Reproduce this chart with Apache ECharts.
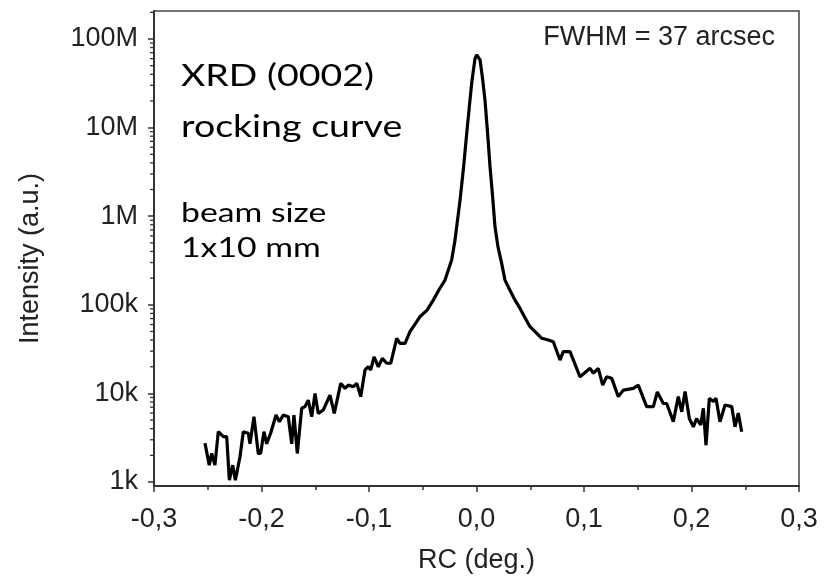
<!DOCTYPE html>
<html>
<head>
<meta charset="utf-8">
<script src="https://cdn.jsdelivr.net/npm/echarts@6/dist/echarts.min.js"></script>
<style>
html,body{margin:0;padding:0;background:#fff;}
#chart{width:834px;height:579px;}
</style>
</head>
<body>
<div id="chart"></div>
<script>
// RC angle (deg.)
const rcDeg = [
-0.2526,-0.2486,-0.2464,-0.2433,-0.2402,-0.2355,-0.2324,-0.2299,-0.2268,-0.2243,
-0.2200,-0.2169,-0.2123,-0.2107,-0.2070,-0.2030,-0.2008,-0.1977,-0.1952,-0.1915,
-0.1865,-0.1834,-0.1797,-0.1751,-0.1719,-0.1698,-0.1667,-0.1626,-0.1595,-0.1565,
-0.1533,-0.1502,-0.1472,-0.1425,-0.1363,-0.1323,-0.1263,-0.1223,-0.1192,-0.1146,
-0.1114,-0.1077,-0.1037,-0.1006,-0.0984,-0.0953,-0.0913,-0.0876,-0.0835,-0.0798,
-0.0742,-0.0712,-0.0665,-0.0619,-0.0556,-0.0526,-0.0460,-0.0402,-0.0350,-0.0293,
-0.0231,-0.0200,-0.0153,-0.0120,-0.0091,-0.0068,-0.0045,-0.0014,0.0002,0.0033,
0.0056,0.0079,0.0103,0.0126,0.0150,0.0172,0.0200,0.0234,0.0265,0.0310,
0.0358,0.0405,0.0450,0.0498,0.0607,0.0668,0.0714,0.0777,0.0807,0.0870,
0.0963,0.1056,0.1087,0.1133,0.1174,0.1211,0.1258,0.1319,0.1366,0.1459,
0.1505,0.1583,0.1645,0.1682,0.1738,0.1769,0.1831,0.1877,0.1909,0.1940,
0.1980,0.2017,0.2048,0.2086,0.2110,0.2135,0.2166,0.2203,0.2228,0.2265,
0.2312,0.2374,0.2405,0.2435,0.2467
];
// Intensity (a.u.)
const intensity = [
2750,1550,2100,1550,3700,3250,3250,1050,1550,1050,
1930,3700,3550,2700,5450,2100,2100,3700,2700,3550,
5700,4800,5700,5450,2700,5700,2100,6800,7100,8400,
5450,10000,5950,6500,9550,5950,13000,11400,12400,11900,
13000,9200,18400,20000,18400,25900,20000,24900,21900,21900,
41900,36700,36700,49800,64600,73400,87000,113000,147000,190000,
321000,537000,1520000,3600000,8600000,16600000,31600000,60000000,66000000,58000000,
36000000,20400000,8700000,3600000,1660000,760000,450000,294000,190000,147000,
113000,91000,72000,56600,41900,40100,38300,23800,29600,29600,
15400,19200,16900,19200,12400,15400,14800,9200,10900,11400,
12400,7100,7100,10400,7700,7700,4800,9200,6200,10500,
5200,4200,5200,4400,6800,2600,8800,8100,8800,4800,
7400,7100,4200,6000,3700
];
const xTickLabels = ['-0,3','-0,2','-0,1','0,0','0,1','0,2','0,3'];
const yTickValues = [1e3,1e4,1e5,1e6,1e7,1e8];
const yTickLabels = ['1k','10k','100k','1M','10M','100M'];
const yMinorMultipliers = [2,3,4,5,6,7,8,9];

const xMin = -0.3, xMax = 0.3, xStep = 0.1;
const yMin = 902, yMax = 2.07e8;

const yMinorValues = [];
yTickValues.forEach(v => yMinorMultipliers.forEach(m => { if (v*m <= yMax) yMinorValues.push(v*m); }));

const seriesData = rcDeg.map((x, i) => [x, intensity[i]]);

const armo = 'Liberation Sans, Arial, Helvetica, sans-serif';
const cal = 'Lato, Carlito, Calibri, sans-serif';
const axisColor = '#333';
const textColor = '#222';
const stretch = 1.25;

const textGraphics = [
  {type:'text', x:775, y:24, style:{text:'FWHM = 37 arcsec', fill:textColor, font:'27px ' + armo, textAlign:'right', textVerticalAlign:'top'}},
  {type:'text', x:181, y:61.5, scaleX:stretch, style:{text:'XRD (0002)', fill:'#000', font:'30px ' + cal, textAlign:'left', textVerticalAlign:'top'}},
  {type:'text', x:181, y:112, scaleX:stretch, style:{text:'rocking curve', fill:'#000', font:'30px ' + cal, textAlign:'left', textVerticalAlign:'top'}},
  {type:'text', x:181, y:199.5, scaleX:stretch, style:{text:'beam size', fill:'#000', font:'27px ' + cal, textAlign:'left', textVerticalAlign:'top'}},
  {type:'text', x:181, y:234.5, scaleX:stretch, style:{text:'1x10 mm', fill:'#000', font:'27px ' + cal, textAlign:'left', textVerticalAlign:'top'}}
];

const chart = echarts.init(document.getElementById('chart'));
chart.setOption({
  animation: false,
  backgroundColor: '#fff',
  grid: {left:154, right:35, top:11, bottom:93, show:true, borderColor:'#444', borderWidth:1.5, backgroundColor:'transparent'},
  xAxis: {
    type:'value', min:xMin, max:xMax, interval:xStep,
    axisLine:{show:true, onZero:false, lineStyle:{color:axisColor, width:2}},
    axisTick:{show:true, length:6, lineStyle:{color:axisColor, width:1.5}},
    minorTick:{show:true, splitNumber:2, length:4, lineStyle:{color:axisColor, width:1.5}},
    splitLine:{show:false},
    axisLabel:{
      margin:20, fontSize:27, color:textColor, fontFamily:armo,
      formatter: v => xTickLabels[Math.round((v - xMin)/xStep)]
    },
    name:'RC (deg.)', nameLocation:'middle', nameGap:61,
    nameTextStyle:{fontSize:27, color:textColor, fontFamily:armo}
  },
  yAxis: {
    type:'log', logBase:10, min:yMin, max:yMax, position:'left',
    axisLine:{show:true, onZero:false, lineStyle:{color:axisColor, width:2}},
    axisTick:{show:true, length:6, customValues:yTickValues, lineStyle:{color:axisColor, width:1.5}},
    splitLine:{show:false},
    axisLabel:{
      customValues:yTickValues, margin:16, fontSize:27, color:textColor, fontFamily:armo,
      formatter: v => {
        const idx = yTickValues.findIndex(t => Math.abs(Math.log10(t) - Math.log10(v)) < 1e-6);
        return idx >= 0 ? yTickLabels[idx] : '';
      }
    },
    name:'Intensity (a.u.)', nameLocation:'middle', nameGap:110,
    nameTextStyle:{fontSize:27, color:textColor, fontFamily:armo, padding:[0,20,0,0]}
  },
  series: [{
    type:'line', xAxisIndex:0, yAxisIndex:0,
    data: seriesData, showSymbol:false, smooth:false,
    lineStyle:{color:'#000', width:3.2}, z:3
  }],
  graphic: textGraphics
});

// minor log ticks on the left axis, placed through the chart's own y scale
const minorTicks = yMinorValues.map(v => {
  const p = chart.convertToPixel({xAxisIndex:0, yAxisIndex:0}, [xMin, v]);
  return {type:'line', z:100, shape:{x1:p[0]-4, y1:p[1], x2:p[0], y2:p[1]},
          style:{stroke:axisColor, lineWidth:1.3}};
});
chart.setOption({graphic: textGraphics.concat(minorTicks)});
</script>
</body>
</html>
